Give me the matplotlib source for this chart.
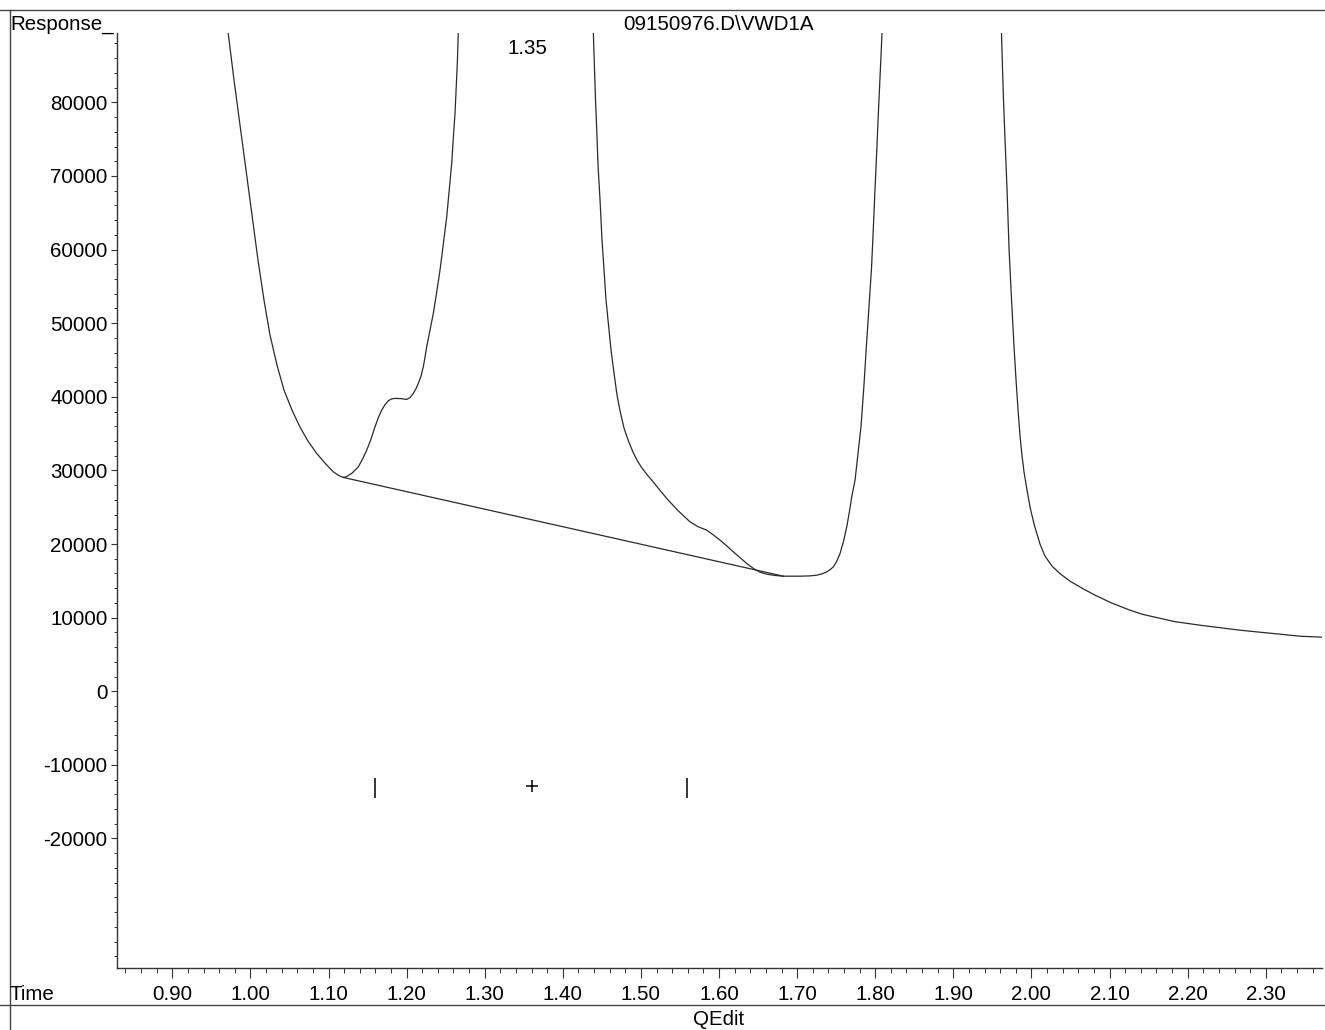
import numpy as np
import matplotlib
matplotlib.use("Agg")
import matplotlib.pyplot as plt
from matplotlib.ticker import MultipleLocator, FixedLocator, FormatStrFormatter
from matplotlib.transforms import blended_transform_factory

plt.rcParams['font.family'] = ['Liberation Sans', 'DejaVu Sans']
plt.rcParams['font.size'] = 14.8

signal_name = "09150976.D\\VWD1A"
peak_rt = 1.35

# chromatogram trace, split where the signal runs off scale
# a: solvent front tail + shoulder + rise of the 1.35 peak
trace_a_t = [0.97132, 0.97900, 0.98668, 0.99437, 1.00205, 1.00973, 1.01741, 1.02510, 1.03406, 1.04302,
             1.05327, 1.06351, 1.07375, 1.08489, 1.09552, 1.10615, 1.11345, 1.11895, 1.12305, 1.13009,
             1.13816, 1.14353, 1.14891, 1.15442, 1.15954, 1.16402, 1.16812, 1.17234, 1.17657, 1.18067,
             1.18515, 1.19283, 1.20013, 1.20435, 1.20858, 1.21204, 1.21498, 1.21844, 1.22138, 1.22356,
             1.22574, 1.22996, 1.23419, 1.23854, 1.24277, 1.24699, 1.25135, 1.25455, 1.25775, 1.25980,
             1.26197, 1.26492, 1.26620]
trace_a_y = [89600, 83035, 76919, 70804, 64688, 58573, 53137, 48380, 44303, 40906,
             38188, 35878, 33975, 32303, 30985, 29803, 29286, 29042, 29151, 29626,
             30482, 31529, 32752, 34247, 35918, 37237, 38188, 38935, 39452, 39710,
             39778, 39751, 39642, 39887, 40457, 41110, 41816, 42809, 44072, 45391,
             46790, 49060, 51329, 54224, 57214, 60747, 64457, 68086, 71714, 75153,
             78509, 85304, 89600]

# b: tail of the 1.35 peak, valley, rise of the next peak
trace_b_t = [1.43905, 1.44059, 1.44187, 1.44341, 1.44507, 1.44763, 1.45019, 1.45275, 1.45531, 1.45852,
             1.46172, 1.46556, 1.46940, 1.47388, 1.47836, 1.48412, 1.48988, 1.49565, 1.50141, 1.50781,
             1.51383, 1.52317, 1.53303, 1.54750, 1.56287, 1.57311, 1.58425, 1.59232, 1.60128, 1.61024,
             1.61831, 1.62689, 1.63547, 1.64097, 1.64610, 1.65250, 1.66108, 1.67170, 1.68233, 1.70371,
             1.71652, 1.72510, 1.73188, 1.73790, 1.74213, 1.74635, 1.75045, 1.75493, 1.75941, 1.76351,
             1.76684, 1.76991, 1.77414, 1.77798, 1.78182, 1.78540, 1.78860, 1.79206, 1.79526, 1.79757,
             1.79974, 1.80205, 1.80423, 1.80656, 1.80874]
trace_b_y = [89600, 84394, 80317, 76240, 71483, 66727, 61291, 57214, 53137, 49739,
             46342, 43216, 40226, 37780, 35742, 33975, 32480, 31257, 30306, 29422,
             28675, 27452, 26188, 24530, 23008, 22356, 21880, 21268, 20521, 19706,
             18931, 18143, 17354, 16920, 16539, 16172, 15900, 15724, 15629, 15629,
             15669, 15764, 15941, 16213, 16512, 16892, 17599, 18713, 20385, 22328,
             24326, 26405, 28675, 32344, 36014, 41314, 46790, 52322, 57554, 62922,
             68290, 73658, 79094, 84394, 89600]

# c: tail of the last peak
trace_c_t = [1.96159, 1.96300, 1.96428, 1.96620, 1.96876, 1.97132, 1.97452, 1.97772, 1.98028, 1.98284,
             1.98540, 1.98796, 1.99052, 1.99436, 1.99821, 2.00333, 2.00717, 2.01101, 2.01741, 2.02638,
             2.03662, 2.04942, 2.06479, 2.08143, 2.10320, 2.12625, 2.14161, 2.15826, 2.18387, 2.21588,
             2.24148, 2.26709, 2.30551, 2.34392, 2.37209]
trace_c_y = [89600, 84394, 80045, 74881, 68086, 60068, 53137, 46750, 42265, 38188,
             34655, 31937, 29762, 27316, 25006, 22695, 21336, 19977, 18347, 16988,
             15968, 14949, 13998, 13046, 11959, 11008, 10464, 10057, 9445, 8969,
             8630, 8290, 7882, 7475, 7339]

# integration baseline
base_t = [1.11895, 1.68233]
base_y = [29042, 15629]

# integration event marks
event_t = [1.160, 1.360, 1.559]
event_y = [-13100, -12900, -13100]
event_m = ['|', '+', '|']

fig = plt.figure(figsize=(13.25, 10.3), dpi=100)
W, H = 1325.0, 1030.0
ax = fig.add_axes([117 / W, 1 - 968 / H, (1322 - 117) / W, (968 - 33) / H])

lc = '#2a2a2a'
for t, y in [(trace_a_t, trace_a_y), (trace_b_t, trace_b_y), (trace_c_t, trace_c_y)]:
    ax.plot(t, y, color=lc, lw=0.9)
ax.plot(base_t, base_y, color=lc, lw=0.9)
for t, y, m in zip(event_t, event_y, event_m):
    ax.plot(t, y, marker=m, color='black', ms=14 if m == '|' else 9, mew=1.1, ls='none')

ax.set_xlim(0.8292, 2.372)
ax.set_ylim(-37600, 89420)

ax.spines['top'].set_visible(False)
ax.spines['right'].set_visible(False)
for s in ['left', 'bottom']:
    ax.spines[s].set_color('#333333')
    ax.spines[s].set_linewidth(1.0)

ax.xaxis.set_major_locator(MultipleLocator(0.1))
ax.xaxis.set_minor_locator(MultipleLocator(0.02))
ax.xaxis.set_major_formatter(FormatStrFormatter('%.2f'))
ax.yaxis.set_major_locator(FixedLocator(np.arange(-20000, 80001, 10000)))
ax.yaxis.set_minor_locator(MultipleLocator(2000))
ax.yaxis.set_major_formatter(FormatStrFormatter('%d'))

ax.tick_params(axis='x', which='major', length=7.2, width=0.8, pad=5, labelsize=14.8, colors='#333333', labelcolor='black')
ax.tick_params(axis='x', which='minor', length=3.6, width=0.7, colors='#333333')
ax.tick_params(axis='y', which='major', length=4.3, width=0.8, pad=2.5, labelsize=14.8, colors='#333333', labelcolor='black')
ax.tick_params(axis='y', which='minor', length=2.2, width=0.7, colors='#333333')

# peak label at retention time
tr = blended_transform_factory(ax.transData, fig.transFigure)
ax.text(peak_rt + 0.005, 1 - 54 / H, "%.2f" % peak_rt, transform=tr, ha='center', va='baseline', fontsize=14.8)

# page furniture
fig.text(10 / W, 1 - 30 / H, "Response_", ha='left', va='baseline', fontsize=14.8)
fig.text(719 / W, 1 - 30 / H, signal_name, ha='center', va='baseline', fontsize=14.8)
fig.text(10 / W, 1 - 1000 / H, "Time", ha='left', va='baseline', fontsize=14.8)
fig.text(719 / W, 1 - 1025 / H, "QEdit", ha='center', va='baseline', fontsize=14.8)

fig.add_artist(plt.Line2D([0, 1], [1 - 10 / H, 1 - 10 / H], color='#444444', lw=1.0))
fig.add_artist(plt.Line2D([0, 1], [1 - 1005 / H, 1 - 1005 / H], color='#444444', lw=1.0))
fig.add_artist(plt.Line2D([9.5 / W, 9.5 / W], [0, 1 - 10 / H], color='#444444', lw=1.0))

fig.savefig("out.png", dpi=100, facecolor='white')
